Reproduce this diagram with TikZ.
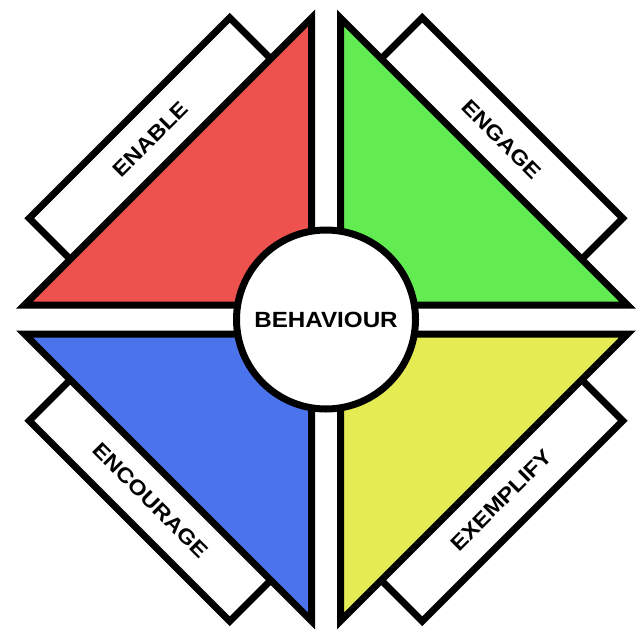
\documentclass[tikz,border=0pt]{standalone}
\usepackage{fontspec}
\setmainfont{Liberation Sans}
\definecolor{qred}{HTML}{EE524F}
\definecolor{qgreen}{HTML}{63EC52}
\definecolor{qblue}{HTML}{4B73EB}
\definecolor{qyellow}{HTML}{E5EB52}
\tikzset{
  outline/.style={draw=black, line width=7pt, line join=miter},
  labelbox/.style={outline, fill=white},
  quadrant/.style={outline},
  lbl/.style={font=\fontsize{21}{21}\selectfont\bfseries, text=black, inner sep=0pt},
  centre/.style={outline, circle, fill=white, minimum size=179pt, inner sep=0pt,
    font=\fontsize{22}{22}\selectfont\bfseries}
}
\begin{document}
\begin{tikzpicture}[x=1pt,y=-1pt]
\useasboundingbox (0,0) rectangle (642,629);
\coordinate (O) at (326,319.5);
\foreach \sx/\sy/\col in {1/1/qred, -1/1/qgreen, 1/-1/qblue, -1/-1/qyellow}{
  \begin{scope}[shift={(326,319.5)}, xscale=\sx, yscale=\sy]
    \draw[labelbox] (-296.75,-101.25) -- (-96.25,-301.75) -- (-50,-255.5) -- (-250.5,-55) -- cycle;
    \draw[quadrant, fill=\col] (-301.5,-14.5) -- (-14.5,-301.5) -- (-14.5,-14.5) -- cycle;
  \end{scope}
}
\node[lbl, rotate=45] (enable) at (150.5,139) {\scalebox{1.12}[1]{ENABLE}};
\node[lbl, rotate=-45] (engage) at (501.5,139) {\scalebox{1.12}[1]{ENGAGE}};
\node[lbl, rotate=-45] (encourage) at (150.5,500) {\scalebox{1.12}[1]{ENCOURAGE}};
\node[lbl, rotate=45] (exemplify) at (501.5,500) {\scalebox{1.12}[1]{EXEMPLIFY}};
\node[centre] (behaviour) at (O) {\scalebox{1.1}[1]{BEHAVIOUR}};
\end{tikzpicture}
\end{document}
